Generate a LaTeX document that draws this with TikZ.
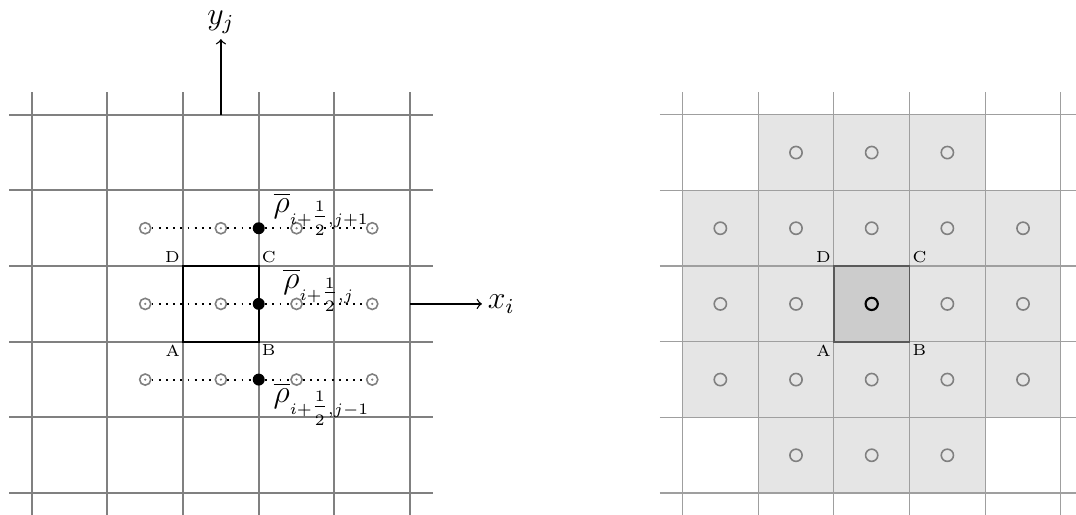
\documentclass[tikz,border=0pt]{standalone}
\usepackage{amsmath}
\usepackage{tikz}
\usetikzlibrary{calc,positioning}

\newcommand{\halfsub}{\genfrac{}{}{}{1}{\scriptscriptstyle 1}{\scriptscriptstyle 2}}

\tikzset{
  gridline/.style={draw=gray, line width=0.75pt},
  finegrid/.style={draw=gray!75, line width=0.45pt},
  cellpt/.style={circle, draw=gray, line width=0.6pt, inner sep=0pt, minimum size=4.2pt,
    path picture={\fill[gray] (path picture bounding box.center) circle (0.45pt);}},
  facept/.style={circle, fill=black, inner sep=0pt, minimum size=4.5pt},
  ringpt/.style={circle, draw=gray, line width=0.6pt, inner sep=0pt, minimum size=4.6pt},
  stencil/.style={fill=black!10, draw=gray!90, line width=0.45pt},
  cornerlbl/.style={font=\fontsize{6}{7}\selectfont, inner sep=1pt},
  rholbl/.style={font=\large, inner sep=0pt, anchor=west},
  axislbl/.style={font=\large, inner sep=2pt},
}

\begin{document}
\begin{tikzpicture}
        \useasboundingbox (-0.419,-0.278) rectangle (13.80,6.516);
        % left: flux grid
        \foreach \k in {0,...,5} {
          \draw[gridline] (-0.3,\k) -- (5.3,\k);
          \draw[gridline] (\k,-0.3) -- (\k,5.3);
        }
        \coordinate (A) at (2,2);
        \coordinate (B) at (3,2);
        \coordinate (C) at (3,3);
        \coordinate (D) at (2,3);
        \draw[line width=0.9pt] (A) -- (B) -- (C) -- (D) -- cycle;
        \node[cornerlbl, anchor=north east] at (A) {A};
        \node[cornerlbl, anchor=north west] at (B) {B};
        \node[cornerlbl, anchor=south west] at (C) {C};
        \node[cornerlbl, anchor=south east] at (D) {D};
        \foreach \r/\y in {T/3.5, M/2.5, B/1.5} {
          \foreach \c/\x in {1/1.5, 2/2.5, 3/3.5, 4/4.5}
            \node[cellpt] (p\r\c) at (\x,\y) {};
          \node[facept] (f\r) at (3,\y) {};
          \draw[dotted, line width=0.7pt] (p\r1) -- (p\r2) -- (f\r) -- (p\r3) -- (p\r4);
        }
        \node[rholbl] (rhoT) at ([shift={(0.19,0.19)}]fT.center)
          {$\overline{\rho}_{\scriptscriptstyle i+\halfsub,j+1}$};
        \node[rholbl] (rhoM) at ([shift={(0.32,0.18)}]fM.center)
          {$\overline{\rho}_{\scriptscriptstyle i+\halfsub,j}$};
        \node[rholbl] (rhoB) at ([shift={(0.19,-0.32)}]fB.center)
          {$\overline{\rho}_{\scriptscriptstyle i+\halfsub,j-1}$};
        % axes
        \coordinate (yfoot) at (2.5,5);
        \coordinate (ytip) at (2.5,6);
        \draw[->, line width=0.5pt] (yfoot) -- (ytip);
        \node[axislbl, anchor=south] (ylbl) at (ytip) {$y_j$};
        \coordinate (xfoot) at (5,2.5);
        \coordinate (xtip) at (5.95,2.5);
        \draw[->, line width=0.5pt] (xfoot) -- (xtip);
        \node[axislbl, anchor=west] (xlbl) at (xtip) {$x_i$};
        % right: stencil
        \begin{scope}[xshift=8.6cm]
          \foreach \x/\y in {1/4,2/4,3/4, 0/3,1/3,2/3,3/3,4/3, 0/2,1/2,3/2,4/2,
                             0/1,1/1,2/1,3/1,4/1, 1/0,2/0,3/0}
            \draw[stencil] (\x,\y) rectangle ++(1,1);
          \foreach \k in {0,...,5} {
            \draw[finegrid] (-0.3,\k) -- (5.6,\k);
            \draw[finegrid] (\k,-0.3) -- (\k,5.3);
          }
          \coordinate (sA) at (2,2);
          \coordinate (sB) at (3,2);
          \coordinate (sC) at (3,3);
          \coordinate (sD) at (2,3);
          \draw[fill=black!20, draw=black!65, line width=0.6pt] (sA) -- (sB) -- (sC) -- (sD) -- cycle;
          \node[cornerlbl, anchor=north east] at (sA) {A};
          \node[cornerlbl, anchor=north west] at (sB) {B};
          \node[cornerlbl, anchor=south west] at (sC) {C};
          \node[cornerlbl, anchor=south east] at (sD) {D};
          \foreach \x/\y in {1/4,2/4,3/4, 0/3,1/3,2/3,3/3,4/3, 0/2,1/2,3/2,4/2,
                             0/1,1/1,2/1,3/1,4/1, 1/0,2/0,3/0}
            \node[ringpt] (q\x\y) at (\x+0.5,\y+0.5) {};
          \node[ringpt, draw=black, line width=0.8pt] (q22) at (2.5,2.5) {};
        \end{scope}
      \end{tikzpicture}
\end{document}
